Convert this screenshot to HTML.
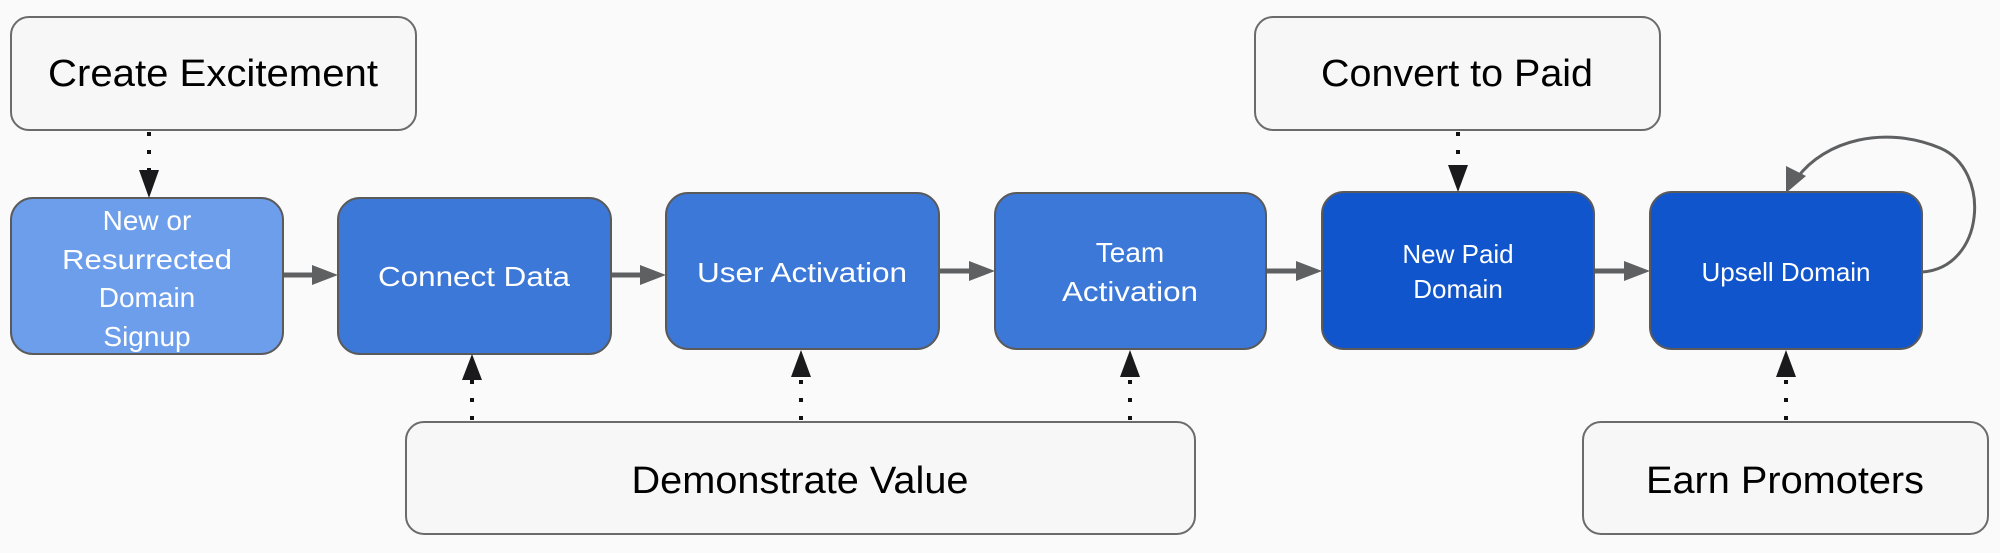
<!DOCTYPE html>
<html><head><meta charset="utf-8"><style>
html,body{margin:0;padding:0;background:#fafafa;}
svg{display:block;}
text{font-family:"Liberation Sans",Arial,sans-serif;}
</style></head><body>
<svg width="2000" height="553" viewBox="0 0 2000 553" xmlns="http://www.w3.org/2000/svg">
<rect width="2000" height="553" fill="#fafafa"/>
<!-- gray boxes -->
<g fill="#f7f7f7" stroke="#6b6b6b" stroke-width="2">
<rect x="11" y="17" width="405" height="113" rx="18"/>
<rect x="1255" y="17" width="405" height="113" rx="18"/>
<rect x="406" y="422" width="789" height="112" rx="18"/>
<rect x="1583" y="422" width="405" height="112" rx="18"/>
</g>
<g font-size="38" fill="#000" text-anchor="middle">
<text x="213" y="86" textLength="330" lengthAdjust="spacingAndGlyphs">Create Excitement</text>
<text x="1457" y="86" textLength="272" lengthAdjust="spacingAndGlyphs">Convert to Paid</text>
<text x="800" y="493" textLength="337" lengthAdjust="spacingAndGlyphs">Demonstrate Value</text>
<text x="1785" y="493" textLength="278" lengthAdjust="spacingAndGlyphs">Earn Promoters</text>
</g>
<!-- blue nodes -->
<g stroke="#5a5a5a" stroke-width="2">
<rect x="11" y="198" width="272" height="156" rx="22" fill="#6d9eeb"/>
<rect x="338" y="198" width="273" height="156" rx="22" fill="#3c78d8"/>
<rect x="666" y="193" width="273" height="156" rx="22" fill="#3c78d8"/>
<rect x="995" y="193" width="271" height="156" rx="22" fill="#3c78d8"/>
<rect x="1322" y="192" width="272" height="157" rx="22" fill="#1155cc"/>
<rect x="1650" y="192" width="272" height="157" rx="22" fill="#1155cc"/>
</g>
<g font-size="28" fill="#fff" text-anchor="middle">
<text x="147" y="230">New or</text>
<text x="147" y="269" textLength="170" lengthAdjust="spacingAndGlyphs">Resurrected</text>
<text x="147" y="307">Domain</text>
<text x="147" y="346">Signup</text>
<text x="474" y="286" textLength="192" lengthAdjust="spacingAndGlyphs">Connect Data</text>
<text x="802" y="282" textLength="210" lengthAdjust="spacingAndGlyphs">User Activation</text>
<text x="1130" y="262">Team</text>
<text x="1130" y="301" textLength="136" lengthAdjust="spacingAndGlyphs">Activation</text>
<text x="1458" y="263" font-size="26">New Paid</text>
<text x="1458" y="298" font-size="26">Domain</text>
<text x="1786" y="281" font-size="26">Upsell Domain</text>
</g>
<!-- solid arrows -->
<g stroke="#5f6062" stroke-width="5" fill="none">
<line x1="284" y1="275" x2="315" y2="275"/>
<line x1="612" y1="275" x2="643" y2="275"/>
<line x1="940" y1="271" x2="972" y2="271"/>
<line x1="1267" y1="271" x2="1299" y2="271"/>
<line x1="1595" y1="271" x2="1627" y2="271"/>
</g>
<g fill="#5f6062">
<path d="M312,265 L338,275 L312,285z"/>
<path d="M640,265 L666,275 L640,285z"/>
<path d="M969,261 L995,271 L969,281z"/>
<path d="M1296,261 L1322,271 L1296,281z"/>
<path d="M1624,261 L1650,271 L1624,281z"/>
</g>
<!-- loop -->
<path d="M1922,272 C1985,268 1992,170 1940,148 C1885,125 1825,140 1797,178" stroke="#5f6062" stroke-width="3" fill="none"/>
<path d="M1786,193 L1786,166 L1806,176z" fill="#5f6062"/>
<!-- dotted connectors -->
<g stroke="#111" stroke-width="4" stroke-dasharray="4 14" fill="none">
<line x1="149" y1="132" x2="149" y2="172"/>
<line x1="1458" y1="132" x2="1458" y2="166"/>
<line x1="472" y1="420" x2="472" y2="380"/>
<line x1="801" y1="420" x2="801" y2="376"/>
<line x1="1130" y1="420" x2="1130" y2="376"/>
<line x1="1786" y1="420" x2="1786" y2="376"/>
</g>
<g fill="#1a1a1c">
<path d="M139,170 L159,170 L149,198z"/>
<path d="M1448,165 L1468,165 L1458,192z"/>
<path d="M462,380 L482,380 L472,354z"/>
<path d="M791,377 L811,377 L801,350z"/>
<path d="M1120,377 L1140,377 L1130,350z"/>
<path d="M1776,377 L1796,377 L1786,350z"/>
</g>
</svg>
</body></html>
